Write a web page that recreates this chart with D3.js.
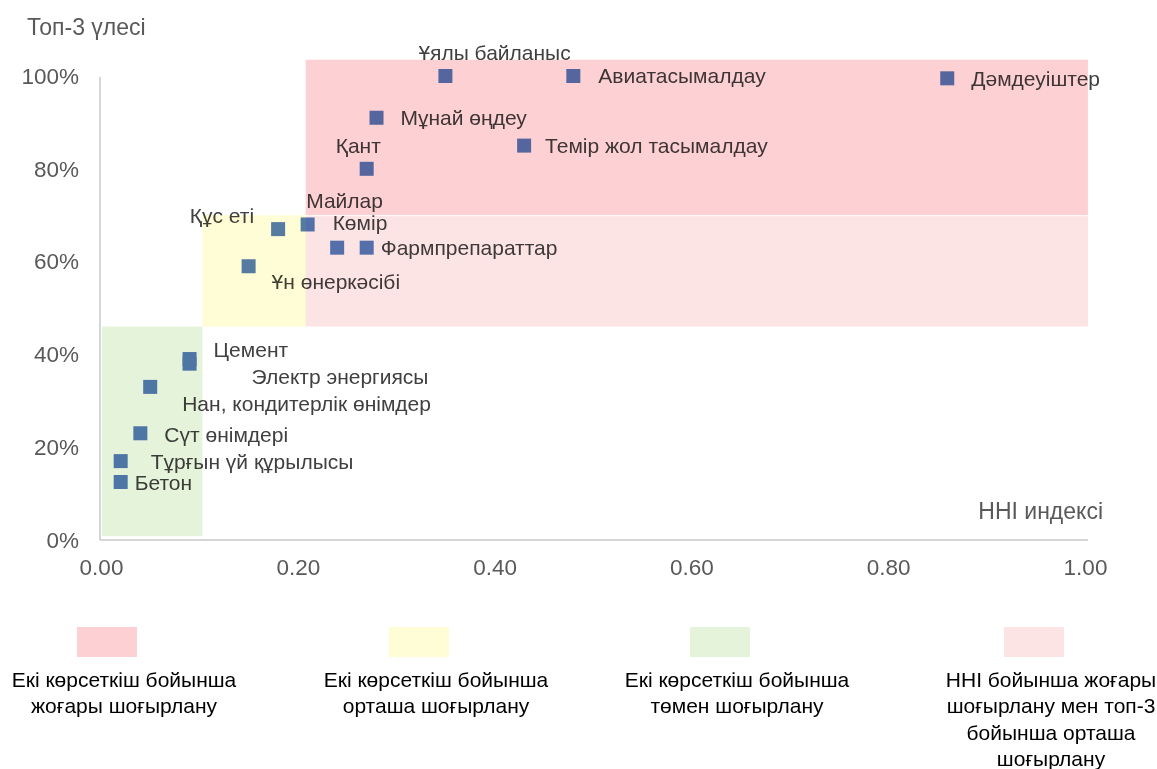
<!DOCTYPE html>
<html>
<head>
<meta charset="utf-8">
<script src="https://cdn.jsdelivr.net/npm/d3@7"></script>
<style>
  body { margin: 0; background: #fff; }
  svg { font-family: "Liberation Sans", Arial, sans-serif; }
</style>
</head>
<body>
<div id="chart"></div>
<script>
// industries: HHI index (x) and top-3 share (y)
var names = [
  "Ұялы байланыс", "Авиатасымалдау", "Дәмдеуіштер", "Мұнай өңдеу",
  "Темір жол тасымалдау", "Қант", "Майлар", "Көмір", "Фармпрепараттар",
  "Құс еті", "Ұн өнеркәсібі", "Цемент", "Электр энергиясы",
  "Нан, кондитерлік өнімдер", "Сүт өнімдері", "Тұрғын үй құрылысы", "Бетон"
];
var hhi = [0.35, 0.48, 0.86, 0.28, 0.43, 0.27, 0.24, 0.21, 0.27, 0.18, 0.15, 0.09, 0.09, 0.05, 0.04, 0.02, 0.02];
var top3 = [1.00, 1.00, 0.995, 0.91, 0.85, 0.80, 0.63, 0.68, 0.63, 0.67, 0.59, 0.39, 0.38, 0.33, 0.23, 0.17, 0.125];

// label offsets from the point (px) and anchor
var labelDx = [-27, 25, 24, 24, 21, -31, -31, 25, 14, -24, 23, 24, 62, 32, 24, 30, 14];
var labelDy = [-23, 0, 0, 0, 0, -23, -47, -2, 0, -13, 15, -9, 13, 17, 1, 1, 1];
var labelAnchor = ["start", "start", "start", "start", "start", "start", "start", "start", "start",
  "end", "start", "start", "start", "start", "start", "start", "start"];

// concentration zones: [x0, x1, y0, y1]
var zoneLines = [
  ["Екі көрсеткіш бойынша", "жоғары шоғырлану"],
  ["Екі көрсеткіш бойынша", "орташа шоғырлану"],
  ["Екі көрсеткіш бойынша", "төмен шоғырлану"],
  ["HHI бойынша жоғары", "шоғырлану мен топ-3", "бойынша орташа", "шоғырлану"]
];
var zoneColors = ["#fdd1d3", "#fefdd5", "#e6f3db", "#fde4e4"];
var zoneBounds = [
  [0.208, 1.003, 0.70, 1.035],
  [0.103, 0.208, 0.46, 0.70],
  [0.001, 0.103, 0.008, 0.46],
  [0.208, 1.003, 0.46, 0.698]
];

var xTicks = [0, 0.2, 0.4, 0.6, 0.8, 1.0];
var yTicks = [0, 0.2, 0.4, 0.6, 0.8, 1.0];

var width = 1157, height = 769;

var svg = d3.select("#chart").append("svg")
  .attr("width", width)
  .attr("height", height);

var x = d3.scaleLinear().domain([0, 1]).range([101, 1085]);
var y = d3.scaleLinear().domain([0, 1]).range([540, 76]);

var textColor = "#595959";
var font = "Liberation Sans, Arial, sans-serif";

// axes
var xAxis = svg.append("g")
  .attr("transform", "translate(0,540)")
  .call(d3.axisBottom(x).tickValues(xTicks).tickSize(0).tickPadding(19).tickFormat(d3.format(".2f")));
xAxis.select(".domain").attr("stroke", "#c8c8c8").attr("stroke-width", 1.5).attr("d", "M100,0H1088");
xAxis.selectAll("text").attr("font-size", 22.5).attr("fill", textColor).attr("font-family", font);

var yAxis = svg.append("g")
  .attr("transform", "translate(100,0)")
  .call(d3.axisLeft(y).tickValues(yTicks).tickSize(0).tickPadding(21).tickFormat(d3.format(".0%")));
yAxis.select(".domain").attr("stroke", "#c8c8c8").attr("stroke-width", 1.5).attr("d", "M0,77V540");
yAxis.selectAll("text").attr("font-size", 22.5).attr("fill", textColor).attr("font-family", font);

// axis titles
svg.append("text")
  .attr("x", 27).attr("y", 35)
  .attr("font-size", 23).attr("fill", textColor)
  .text("Топ-3 үлесі");

svg.append("text")
  .attr("x", 1103).attr("y", 519)
  .attr("text-anchor", "end")
  .attr("font-size", 23).attr("fill", textColor)
  .text("HHI индексі");

// points
var idx = d3.range(names.length);

svg.append("g").selectAll("rect")
  .data(idx)
  .join("rect")
  .attr("x", i => x(hhi[i]) - 7)
  .attr("y", i => y(top3[i]) - 7)
  .attr("width", 14)
  .attr("height", 14)
  .attr("fill", "#557cc0");

svg.append("g").selectAll("text")
  .data(idx)
  .join("text")
  .attr("x", i => x(hhi[i]) + labelDx[i])
  .attr("y", i => y(top3[i]) + labelDy[i])
  .attr("dy", "0.35em")
  .attr("text-anchor", i => labelAnchor[i])
  .attr("font-size", 21)
  .attr("fill", "#404040")
  .text(i => names[i]);

// zones on top, multiplied so the marks show through tinted
svg.append("g").selectAll("rect")
  .data(d3.range(zoneBounds.length))
  .join("rect")
  .attr("x", i => x(zoneBounds[i][0]))
  .attr("y", i => y(zoneBounds[i][3]))
  .attr("width", i => x(zoneBounds[i][1]) - x(zoneBounds[i][0]))
  .attr("height", i => y(zoneBounds[i][2]) - y(zoneBounds[i][3]))
  .attr("fill", i => zoneColors[i])
  .style("mix-blend-mode", "multiply");

// legend
var legendX = [107, 419, 720, 1034];

var legend = svg.append("g").selectAll("g")
  .data(d3.range(zoneLines.length))
  .join("g")
  .attr("transform", i => `translate(${legendX[i]},0)`);

legend.append("rect")
  .attr("x", -30).attr("y", 627)
  .attr("width", 60).attr("height", 30)
  .attr("fill", i => zoneColors[i]);

legend.append("text")
  .attr("text-anchor", "middle")
  .attr("font-size", 21)
  .attr("fill", "#000")
  .selectAll("tspan")
  .data(i => zoneLines[i])
  .join("tspan")
  .attr("x", 17)
  .attr("y", (d, j) => 687 + j * 26.3)
  .text(d => d);
</script>
</body>
</html>
